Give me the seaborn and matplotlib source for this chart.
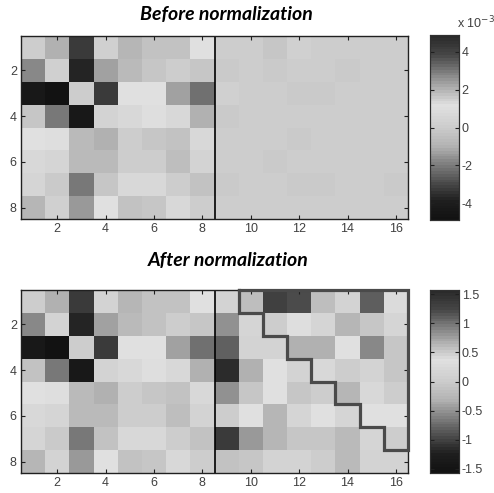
import numpy as np
import pandas as pd
import matplotlib
matplotlib.use("Agg")
import matplotlib.pyplot as plt
from matplotlib.colors import LinearSegmentedColormap
import seaborn as sns

# ---------------- data ----------------
cols = list(range(1, 17))
rows = list(range(1, 9))

# Before normalization (units of 1e-3), left 8x8 block
before_left = [
    [0.0, -1.0, -3.3, 0.3, -0.8, -0.4, -0.4, 1.2],
    [-1.75, 0.3, -3.8, -1.25, -0.7, -0.3, 0.0, -0.2],
    [-4.3, -4.9, 0.0, -3.3, 1.2, 1.1, -1.25, -2.15],
    [-0.3, -2.0, -4.3, 0.45, 0.75, 1.0, 0.75, -1.0],
    [1.2, 1.0, -0.7, -1.0, 0.0, -0.2, -0.4, 0.75],
    [0.75, 0.6, -0.7, -0.7, 0.0, 0.05, -0.5, 0.45],
    [0.6, -0.1, -2.0, -0.3, 0.75, 0.75, 0.0, -0.4],
    [-0.8, 0.3, -1.5, 1.2, -0.4, -0.2, 0.75, 0.0],
]
# Before normalization (units of 1e-3), right 8x8 block
before_right = [
    [0.0, 0.0, -0.2, 0.3, 0.0, 0.0, 0.1, 0.0],
    [-0.1, 0.0, -0.1, 0.0, 0.0, -0.1, 0.0, 0.0],
    [0.3, 0.15, 0.0, -0.1, -0.1, 0.15, 0.0, 0.0],
    [-0.1, 0.0, 0.0, 0.0, 0.0, 0.0, 0.0, 0.0],
    [0.0, 0.0, 0.0, -0.1, 0.0, 0.0, 0.0, 0.0],
    [0.0, 0.0, -0.1, 0.0, 0.0, 0.0, 0.0, 0.0],
    [-0.1, 0.0, 0.0, -0.1, -0.1, 0.0, 0.0, -0.1],
    [0.0, 0.0, 0.0, 0.0, 0.0, 0.0, 0.0, 0.0],
]
# After normalization, left block
after_left = [
    [0.0, -0.32, -1.06, 0.10, -0.26, -0.13, -0.13, 0.38],
    [-0.56, 0.10, -1.22, -0.40, -0.22, -0.10, 0.0, -0.06],
    [-1.38, -1.57, 0.0, -1.06, 0.38, 0.35, -0.40, -0.69],
    [-0.10, -0.64, -1.38, 0.14, 0.24, 0.32, 0.24, -0.32],
    [0.38, 0.32, -0.22, -0.32, 0.0, -0.06, -0.13, 0.24],
    [0.24, 0.19, -0.22, -0.22, 0.0, 0.02, -0.16, 0.14],
    [0.19, -0.03, -0.64, -0.10, 0.24, 0.24, 0.0, -0.13],
    [-0.26, 0.10, -0.48, 0.38, -0.13, -0.06, 0.24, 0.0],
]
# After normalization, right block
after_right = [
    [0.10, -0.16, 1.30, 1.18, -0.16, 0.14, 1.09, 0.29],
    [-0.53, 0.19, 0.0, 0.32, 0.19, -0.26, -0.06, 0.19],
    [-0.80, 0.10, 0.10, -0.32, -0.32, 0.38, -0.56, -0.06],
    [-1.17, -0.32, 0.38, 0.10, 0.24, 0.0, 0.14, -0.06],
    [-0.51, -0.06, 0.38, -0.06, 0.0, -0.26, 0.24, 0.0],
    [0.03, 0.38, -0.26, 0.19, 0.35, 0.19, 0.38, 0.38],
    [-1.06, -0.45, -0.26, -0.06, -0.06, -0.22, 0.19, 0.0],
    [-0.13, -0.06, 0.10, 0.10, 0.0, -0.22, 0.10, 0.10],
]
# first column of the outlined region, per row (rows 1..7)
region_start_col = [10, 11, 12, 13, 14, 15, 16]

before_lim = 4.9e-3
after_lim = 1.57
before_ticks = [-4, -2, 0, 2, 4]
after_ticks = [-1.5, -1, -0.5, 0, 0.5, 1, 1.5]
x_ticks = [2, 4, 6, 8, 10, 12, 14, 16]
y_ticks = [2, 4, 6, 8]
titles = ["Before normalization", "After normalization"]

before = pd.DataFrame(np.hstack([np.array(before_left), np.array(before_right)]) * 1e-3,
                      index=rows, columns=cols)
after = pd.DataFrame(np.hstack([np.array(after_left), np.array(after_right)]),
                     index=rows, columns=cols)

# ---------------- colormap ----------------
nodes = [(0.0, 0.07), (0.1, 0.12), (0.2, 0.30), (0.3, 0.50), (0.4, 0.70),
         (0.5, 0.80), (0.62, 0.88), (0.7, 0.72), (0.8, 0.50), (0.9, 0.27), (1.0, 0.17)]
cmap = LinearSegmentedColormap.from_list("vgray", [(t, (g, g, g)) for t, g in nodes], N=64)

# ---------------- figure ----------------
W, H = 494, 493
fig = plt.figure(figsize=(W / 100, H / 100), dpi=100)

def fx(px):
    return px / W

def fy(top, bottom):
    return (H - bottom) / H, (bottom - top) / H

tick_color = "#404040"
tick_font = dict(family="Liberation Sans", size=9)

ax_specs = [
    (before, before_lim, 36, 219, 35, 220),
    (after, after_lim, 290, 473, 290, 473),
]
axes = []
caxes = []
for i, (df, lim, t, b, ct, cb) in enumerate(ax_specs):
    y0, h = fy(t, b)
    ax = fig.add_axes([fx(21), y0, fx(387), h])
    cy0, ch = fy(ct, cb)
    cax = fig.add_axes([fx(430), cy0, fx(29), ch])
    sns.heatmap(df, ax=ax, cbar_ax=cax, cmap=cmap, vmin=-lim, vmax=lim,
                xticklabels=False, yticklabels=False, square=False)
    for sp in ax.spines.values():
        sp.set_visible(True)
        sp.set_color("#202020")
        sp.set_linewidth(1.0)
    ax.set_xticks([c - 0.5 for c in x_ticks])
    ax.set_xticklabels([str(c) for c in x_ticks], fontdict=tick_font, color=tick_color)
    ax.set_yticks([r - 0.5 for r in y_ticks])
    ax.set_yticklabels([str(r) for r in y_ticks], fontdict=tick_font, color=tick_color,
                       rotation=0)
    ax.tick_params(axis="both", direction="in", length=3, width=0.8, color="#202020",
                   top=True, right=True, bottom=True, left=True, pad=3)
    ax.set_xlabel("")
    ax.set_ylabel("")
    # vertical separator between the two blocks
    ax.axvline(len(before_left[0]), color="black", lw=1.2)

    # colorbar styling
    for sp in cax.spines.values():
        sp.set_visible(True)
        sp.set_color("#303030")
        sp.set_linewidth(0.8)
    if i == 0:
        cax.set_yticks([v * 1e-3 for v in before_ticks])
        cax.set_yticklabels([str(v) for v in before_ticks], fontdict=tick_font, color=tick_color)
    else:
        cax.set_yticks(after_ticks)
        cax.set_yticklabels([f"{v:g}" for v in after_ticks], fontdict=tick_font, color=tick_color)
    cax.tick_params(axis="y", direction="in", length=3, width=0.8, color="#202020",
                    left=True, right=True, labelleft=False, labelright=True, pad=2)
    axes.append(ax)
    caxes.append(cax)

# staircase outline on the lower panel
ax = axes[1]
n_rows = len(region_start_col)
xs = [region_start_col[0] - 1]
ys = [0]
for r, c in enumerate(region_start_col):
    xs += [c - 1, c - 1]
    ys += [r, r + 1]
xs += [len(cols), len(cols), region_start_col[0] - 1]
ys += [n_rows, 0, 0]
ax.plot(xs, ys, color="#4a4a4a", lw=2.3, solid_joinstyle="miter", clip_on=False, zorder=5)

# titles
title_font = dict(family="Lato", size=14, weight="bold", style="italic")
fig.text(fx(226), 1 - 15 / H, titles[0], ha="center", va="center", **title_font)
fig.text(fx(228), 1 - 260 / H, titles[1], ha="center", va="center", **title_font)

# exponent label for the upper colorbar
fig.text(fx(457), 1 - 28 / H, r"x 10$^{-3}$", ha="left", va="baseline",
         fontdict=tick_font, color=tick_color)

fig.savefig("out.png", dpi=100)
